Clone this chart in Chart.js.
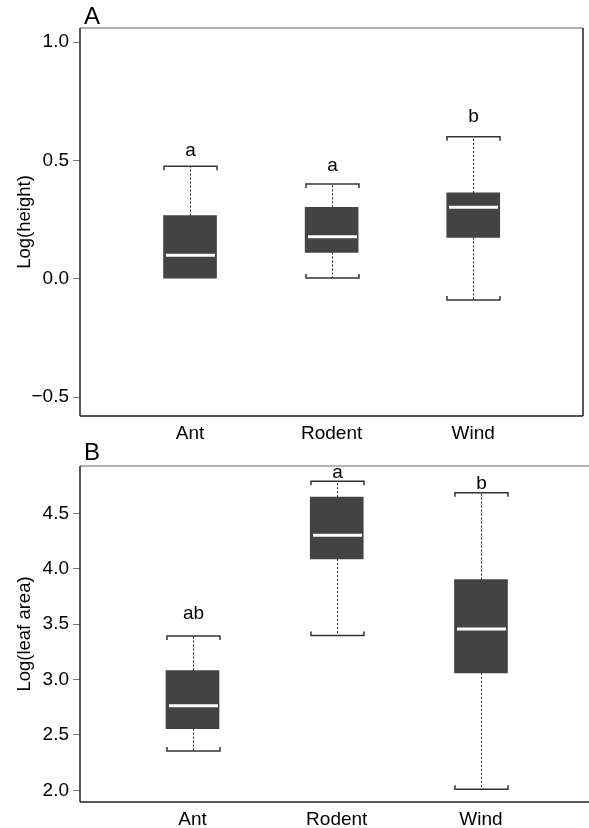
<!DOCTYPE html>
<html>
<head>
<meta charset="utf-8">
<script src="https://cdn.jsdelivr.net/npm/chart.js@4.4.1/dist/chart.umd.min.js"></script>
<style>
  body { margin: 0; background: #fff; }
  .panel { position: absolute; left: 0; }
</style>
</head>
<body>
<div class="panel" style="top:0"><canvas id="chartA" width="589" height="440"></canvas></div>
<div class="panel" style="top:440px"><canvas id="chartB" width="589" height="388"></canvas></div>
<script>
const categories = ['Ant', 'Rodent', 'Wind'];
const positions = [1, 2, 3];

// panel A - Log(height)
const heightMin = [0.0, 0.003, -0.09];
const heightQ1 = [0.0, 0.111, 0.175];
const heightMed = [0.099, 0.178, 0.302];
const heightQ3 = [0.267, 0.302, 0.363];
const heightMax = [0.476, 0.401, 0.60];
const heightLetters = ['a', 'a', 'b'];
const heightLetterY = [0.542, 0.479, 0.683];
const heightTicks = [-0.5, 0.0, 0.5, 1.0];

// panel B - Log(leaf area)
const leafMin = [2.356, 3.397, 2.009];
const leafQ1 = [2.558, 4.089, 3.061];
const leafMed = [2.764, 4.302, 3.457];
const leafQ3 = [3.082, 4.647, 3.903];
const leafMax = [3.394, 4.79, 4.686];
const leafLetters = ['ab', 'a', 'b'];
const leafLetterY = [3.597, 4.865, 4.766];
const leafTicks = [2.0, 2.5, 3.0, 3.5, 4.0, 4.5];

Chart.defaults.font.family = '"Liberation Sans", Arial, sans-serif';
Chart.defaults.color = '#000';

function line(ctx, x1, y1, x2, y2) {
  ctx.beginPath();
  ctx.moveTo(x1, y1);
  ctx.lineTo(x2, y2);
  ctx.stroke();
}

// whiskers, caps, medians, letters, frame
const boxExtras = {
  id: 'boxExtras',
  afterDatasetsDraw(chart, args, o) {
    const ctx = chart.ctx;
    const x = chart.scales.x, y = chart.scales.y;
    const half = o.boxWidth / 2;
    const area = chart.chartArea;
    ctx.save();
    positions.forEach((p, i) => {
      const cx = Math.round(x.getPixelForValue(p)) + 0.5;
      const yMax = y.getPixelForValue(o.max[i]);
      const yMin = y.getPixelForValue(o.min[i]);
      const yQ1 = y.getPixelForValue(o.q1[i]);
      const yQ3 = y.getPixelForValue(o.q3[i]);
      const yMed = y.getPixelForValue(o.med[i]);

      ctx.strokeStyle = '#222';
      ctx.lineWidth = 1;
      ctx.setLineDash([2, 2]);
      line(ctx, cx, yQ3, cx, yMax);
      line(ctx, cx, yQ1, cx, yMin);
      ctx.setLineDash([]);

      ctx.strokeStyle = '#333';
      ctx.lineWidth = 1.5;
      ctx.beginPath();
      ctx.moveTo(cx - half, yMax + 4);
      ctx.lineTo(cx - half, yMax);
      ctx.lineTo(cx + half, yMax);
      ctx.lineTo(cx + half, yMax + 4);
      ctx.stroke();
      if (o.min[i] < o.q1[i]) {
        ctx.beginPath();
        ctx.moveTo(cx - half, yMin - 4);
        ctx.lineTo(cx - half, yMin);
        ctx.lineTo(cx + half, yMin);
        ctx.lineTo(cx + half, yMin - 4);
        ctx.stroke();
      }

      ctx.strokeStyle = '#fff';
      ctx.lineWidth = 3;
      line(ctx, cx - half + 2, yMed, cx + half - 2, yMed);

      ctx.fillStyle = '#000';
      ctx.font = '19px "Liberation Sans", Arial, sans-serif';
      ctx.textAlign = 'center';
      ctx.textBaseline = 'middle';
      ctx.fillText(o.letters[i], cx, y.getPixelForValue(o.letterY[i]));
    });

    // frame
    ctx.lineWidth = 1.5;
    ctx.strokeStyle = '#999';
    line(ctx, area.left, area.top, area.right, area.top);
    ctx.strokeStyle = '#222';
    line(ctx, area.left, area.top, area.left, area.bottom);
    line(ctx, area.left, area.bottom, area.right, area.bottom);
    if (o.rightEdge) line(ctx, area.right, area.top, area.right, area.bottom);

    ctx.fillStyle = '#000';
    ctx.font = '24px "Liberation Sans", Arial, sans-serif';
    ctx.textAlign = 'left';
    ctx.textBaseline = 'alphabetic';
    ctx.fillText(o.panel, 84, o.panelY);
    ctx.restore();
  }
};

function tickText(v) {
  return v.toFixed(1).replace('-', '\u2212');
}

function makeBox(id, cfg) {
  return new Chart(document.getElementById(id), {
    type: 'bar',
    data: {
      datasets: [{
        data: positions.map((p, i) => ({ x: p, y: [cfg.q1[i], cfg.q3[i]] })),
        backgroundColor: '#434343',
        borderWidth: 0,
        barThickness: 53
      }]
    },
    options: {
      responsive: false,
      devicePixelRatio: 1,
      animation: false,
      layout: { padding: { top: cfg.top, right: cfg.right, left: 0, bottom: 0 } },
      plugins: {
        legend: { display: false },
        tooltip: { enabled: false },
        boxExtras: {
          boxWidth: 53,
          min: cfg.min, q1: cfg.q1, med: cfg.med, q3: cfg.q3, max: cfg.max,
          letters: cfg.letters, letterY: cfg.letterY,
          panel: cfg.panel, panelY: cfg.panelY, rightEdge: cfg.right > 0
        }
      },
      scales: {
        x: {
          type: 'linear',
          offset: false,
          min: cfg.xMin,
          max: cfg.xMax,
          afterBuildTicks: s => { s.ticks = positions.map(v => ({ value: v })); },
          afterFit: s => { s.height = cfg.xHeight; },
          grid: { display: false, drawTicks: false },
          border: { display: false },
          ticks: {
            padding: 6,
            font: { size: 19 },
            color: '#000',
            callback: v => categories[positions.indexOf(v)]
          }
        },
        y: {
          min: cfg.yMin,
          max: cfg.yMax,
          afterBuildTicks: s => { s.ticks = cfg.ticks.map(v => ({ value: v })); },
          afterFit: s => { s.width = 80; },
          grid: { drawOnChartArea: false, drawTicks: true, tickLength: 7, color: '#777', lineWidth: 1 },
          border: { display: false },
          ticks: {
            padding: 4,
            font: { size: 19 },
            color: '#000',
            callback: v => tickText(v)
          },
          title: {
            display: true,
            text: cfg.title,
            font: { size: 18.5 },
            color: '#000',
            padding: { top: 14, bottom: 0 }
          }
        }
      }
    },
    plugins: [boxExtras]
  });
}

makeBox('chartA', {
  min: heightMin, q1: heightQ1, med: heightMed, q3: heightQ3, max: heightMax,
  letters: heightLetters, letterY: heightLetterY, ticks: heightTicks,
  yMin: -0.58, yMax: 1.06, xMin: 0.223, xMax: 3.775,
  top: 28, right: 6, xHeight: 24,
  title: 'Log(height)', panel: 'A', panelY: 23.5
});

makeBox('chartB', {
  min: leafMin, q1: leafQ1, med: leafMed, q3: leafQ3, max: leafMax,
  letters: leafLetters, letterY: leafLetterY, ticks: leafTicks,
  yMin: 1.895, yMax: 4.928, xMin: 0.22, xMax: 3.749,
  top: 26, right: 0, xHeight: 26,
  title: 'Log(leaf area)', panel: 'B', panelY: 19.5
});
</script>
</body>
</html>
